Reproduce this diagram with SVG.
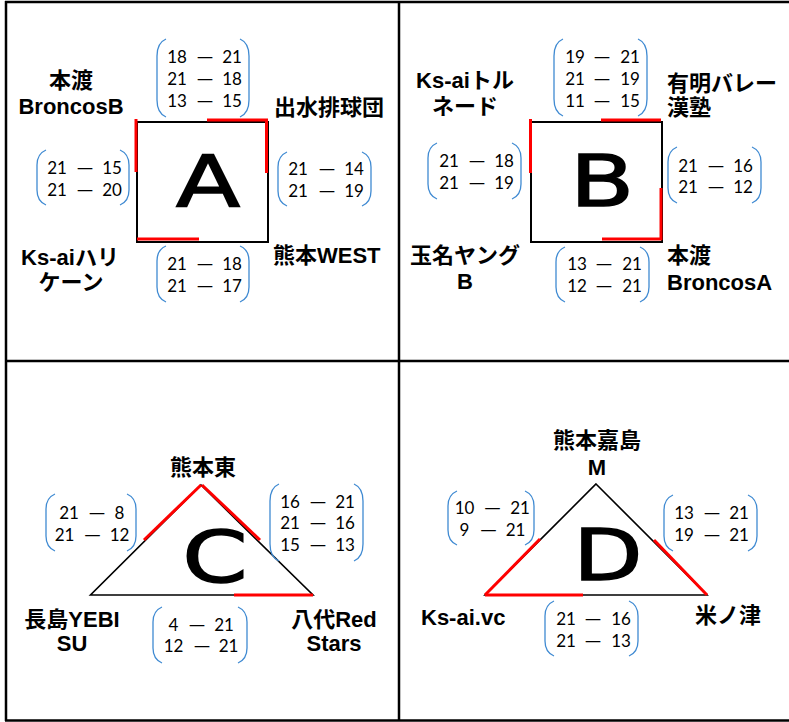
<svg xmlns="http://www.w3.org/2000/svg" width="789" height="722" viewBox="0 0 789 722">
<style>
.grid{stroke:#000;stroke-width:2.5;fill:none}
.shape{stroke:#000;stroke-width:2;fill:none}
.tri{stroke:#000;stroke-width:1.6;fill:none}
.red{stroke:#f00;stroke-width:3;fill:none}
.br{stroke:#3f8ad2;stroke-width:1.3;fill:none}
.lbl{font-family:"Liberation Sans","Noto Sans CJK JP",sans-serif;font-weight:bold;font-size:22px;fill:#000}
.mid{text-anchor:middle}
.sc{font-family:Lato,"Noto Sans",sans-serif;font-size:17px;fill:#000;text-anchor:middle}
.big{font-family:"DejaVu Sans","Liberation Sans",sans-serif;font-size:72px;fill:#000;stroke:#000;stroke-width:1.5;text-anchor:middle}
</style>
<rect width="789" height="722" fill="#fff"/>
<g id="grid">
<line class="grid" x1="5" y1="2" x2="789" y2="2"/>
<line class="grid" x1="6" y1="1" x2="6" y2="721"/>
<line class="grid" x1="399" y1="1" x2="399" y2="721"/>
<line class="grid" x1="5" y1="361" x2="789" y2="361"/>
<line class="grid" x1="5" y1="720.5" x2="789" y2="720.5"/>
</g>

<g id="shape-A">
<rect class="shape" x="137" y="122" width="131" height="120"/>
<line class="red" x1="136" y1="119" x2="136" y2="172"/>
<line class="red" x1="207" y1="120" x2="268" y2="120"/>
<line class="red" x1="266.5" y1="119" x2="266.5" y2="173"/>
<line class="red" x1="137" y1="239" x2="199" y2="239"/>
<text class="big" transform="translate(208,206) scale(1.3,1)">A</text>
</g>
<g id="shape-B">
<rect class="shape" x="531" y="122" width="131" height="120"/>
<line class="red" x1="530.5" y1="119" x2="530.5" y2="173"/>
<line class="red" x1="601" y1="120" x2="661" y2="120"/>
<line class="red" x1="661" y1="188" x2="661" y2="240"/>
<line class="red" x1="602" y1="239" x2="662" y2="239"/>
<text class="big" transform="translate(602,206) scale(1.3,1)">B</text>
</g>
<g id="shape-C">
<path class="tri" d="M201,485 L313,595 L90.5,595 Z"/>
<line class="red" x1="144" y1="540" x2="201" y2="485"/>
<line class="red" x1="202" y1="485" x2="260" y2="540"/>
<line class="red" x1="234" y1="595" x2="313" y2="595"/>
<text class="big" transform="translate(215,582) scale(1.3,1)">C</text>
</g>
<g id="shape-D">
<path class="tri" d="M596,484 L707,595 L485,595 Z"/>
<line class="red" x1="485" y1="595" x2="540" y2="539"/>
<line class="red" x1="654" y1="540" x2="707" y2="595"/>
<line class="red" x1="485" y1="595" x2="583" y2="595"/>
<text class="big" transform="translate(608,580) scale(1.25,1)">D</text>
</g>

<g id="label-A-tl"><text class="lbl mid" x="71" y="88">本渡</text><text class="lbl mid" x="71" y="114">BroncosB</text></g>
<g id="label-A-tr"><text class="lbl" x="274" y="115">出水排球団</text></g>
<g id="label-A-bl"><text class="lbl mid" x="70" y="265">Ks-aiハリ</text><text class="lbl mid" x="71" y="290">ケーン</text></g>
<g id="label-A-br"><text class="lbl" x="273" y="263">熊本WEST</text></g>

<g id="label-B-tl"><text class="lbl mid" x="465" y="88">Ks-aiトル</text><text class="lbl mid" x="465" y="114">ネード</text></g>
<g id="label-B-tr"><text class="lbl" x="667" y="91">有明バレー</text><text class="lbl" x="667" y="115">漢塾</text></g>
<g id="label-B-bl"><text class="lbl mid" x="465" y="263">玉名ヤング</text><text class="lbl mid" x="465" y="289">B</text></g>
<g id="label-B-br"><text class="lbl" x="667" y="263">本渡</text><text class="lbl" x="667" y="290">BroncosA</text></g>

<g id="label-C-top"><text class="lbl mid" x="203" y="475">熊本東</text></g>
<g id="label-C-bl"><text class="lbl mid" x="72" y="627">長島YEBI</text><text class="lbl mid" x="72" y="651">SU</text></g>
<g id="label-C-br"><text class="lbl mid" x="334" y="627">八代Red</text><text class="lbl mid" x="334" y="651">Stars</text></g>

<g id="label-D-top"><text class="lbl mid" x="597" y="448">熊本嘉島</text><text class="lbl mid" x="597" y="475">M</text></g>
<g id="label-D-bl"><text class="lbl" x="421" y="625">Ks-ai.vc</text></g>
<g id="label-D-br"><text class="lbl" x="695" y="623">米ノ津</text></g>

<g id="score-A-top">
<path class="br" d="M166,39 C159,42 157,48 157,56 L157,100 C157,108 159,114 166,117"/>
<path class="br" d="M240,39 C247,42 249,48 249,56 L249,100 C249,108 247,114 240,117"/>
<text class="sc" x="177" y="63">18</text><text class="sc" transform="translate(205,63) scale(1.3,1)">—</text><text class="sc" x="232" y="63">21</text>
<text class="sc" x="177" y="85">21</text><text class="sc" transform="translate(205,85) scale(1.3,1)">—</text><text class="sc" x="232" y="85">18</text>
<text class="sc" x="177" y="107">13</text><text class="sc" transform="translate(205,107) scale(1.3,1)">—</text><text class="sc" x="232" y="107">15</text>
</g>
<g id="score-A-left">
<path class="br" d="M46,150 C39,153 37,158 37,165 L37,190 C37,197 39,202 46,205"/>
<path class="br" d="M120,150 C127,153 129,158 129,165 L129,190 C129,197 127,202 120,205"/>
<text class="sc" x="57" y="174">21</text><text class="sc" transform="translate(85,174) scale(1.3,1)">—</text><text class="sc" x="112" y="174">15</text>
<text class="sc" x="57" y="196">21</text><text class="sc" transform="translate(85,196) scale(1.3,1)">—</text><text class="sc" x="112" y="196">20</text>
</g>
<g id="score-A-right">
<path class="br" d="M287,152 C280,155 278,160 278,167 L278,191 C278,198 280,203 287,206"/>
<path class="br" d="M362,152 C369,155 371,160 371,167 L371,191 C371,198 369,203 362,206"/>
<text class="sc" x="298" y="175">21</text><text class="sc" transform="translate(327,175) scale(1.3,1)">—</text><text class="sc" x="354" y="175">14</text>
<text class="sc" x="298" y="197">21</text><text class="sc" transform="translate(327,197) scale(1.3,1)">—</text><text class="sc" x="354" y="197">19</text>
</g>
<g id="score-A-bottom">
<path class="br" d="M166,246 C159,249 157,254 157,261 L157,287 C157,294 159,299 166,302"/>
<path class="br" d="M240,246 C247,249 249,254 249,261 L249,287 C249,294 247,299 240,302"/>
<text class="sc" x="177" y="270">21</text><text class="sc" transform="translate(205,270) scale(1.3,1)">—</text><text class="sc" x="232" y="270">18</text>
<text class="sc" x="177" y="292">21</text><text class="sc" transform="translate(205,292) scale(1.3,1)">—</text><text class="sc" x="232" y="292">17</text>
</g>

<g id="score-B-top">
<path class="br" d="M563,39 C556,42 554,48 554,56 L554,99 C554,107 556,113 563,116"/>
<path class="br" d="M638,39 C645,42 647,48 647,56 L647,99 C647,107 645,113 638,116"/>
<text class="sc" x="575" y="63">19</text><text class="sc" transform="translate(602,63) scale(1.3,1)">—</text><text class="sc" x="630" y="63">21</text>
<text class="sc" x="575" y="85">21</text><text class="sc" transform="translate(602,85) scale(1.3,1)">—</text><text class="sc" x="630" y="85">19</text>
<text class="sc" x="575" y="107">11</text><text class="sc" transform="translate(602,107) scale(1.3,1)">—</text><text class="sc" x="630" y="107">15</text>
</g>
<g id="score-B-left">
<path class="br" d="M437,143 C430,146 428,151 428,158 L428,184 C428,191 430,196 437,199"/>
<path class="br" d="M512,143 C519,146 521,151 521,158 L521,184 C521,191 519,196 512,199"/>
<text class="sc" x="449" y="167">21</text><text class="sc" transform="translate(477,167) scale(1.3,1)">—</text><text class="sc" x="504" y="167">18</text>
<text class="sc" x="449" y="189">21</text><text class="sc" transform="translate(477,189) scale(1.3,1)">—</text><text class="sc" x="504" y="189">19</text>
</g>
<g id="score-B-right">
<path class="br" d="M677,147 C670,150 668,155 668,162 L668,188 C668,195 670,200 677,203"/>
<path class="br" d="M752,147 C759,150 761,155 761,162 L761,188 C761,195 759,200 752,203"/>
<text class="sc" x="688" y="172">21</text><text class="sc" transform="translate(716,172) scale(1.3,1)">—</text><text class="sc" x="743" y="172">16</text>
<text class="sc" x="688" y="193">21</text><text class="sc" transform="translate(716,193) scale(1.3,1)">—</text><text class="sc" x="743" y="193">12</text>
</g>
<g id="score-B-bottom">
<path class="br" d="M565,247 C558,250 556,255 556,262 L556,287 C556,294 558,299 565,302"/>
<path class="br" d="M640,247 C647,250 649,255 649,262 L649,287 C649,294 647,299 640,302"/>
<text class="sc" x="577" y="270">13</text><text class="sc" transform="translate(604,270) scale(1.3,1)">—</text><text class="sc" x="632" y="270">21</text>
<text class="sc" x="577" y="292">12</text><text class="sc" transform="translate(604,292) scale(1.3,1)">—</text><text class="sc" x="632" y="292">21</text>
</g>

<g id="score-C-left">
<path class="br" d="M55,494 C48,497 46,502 46,509 L46,536 C46,543 48,548 55,551"/>
<path class="br" d="M127,494 C134,497 136,502 136,509 L136,536 C136,543 134,548 127,551"/>
<text class="sc" x="69" y="519">21</text><text class="sc" transform="translate(97,519) scale(1.3,1)">—</text><text class="sc" x="119.5" y="519">8</text>
<text class="sc" x="64.5" y="541">21</text><text class="sc" transform="translate(92.5,541) scale(1.3,1)">—</text><text class="sc" x="119.5" y="541">12</text>
</g>
<g id="score-C-right">
<path class="br" d="M279,484 C272,487 270,493 270,501 L270,544 C270,552 272,558 279,561"/>
<path class="br" d="M354,484 C361,487 363,493 363,501 L363,544 C363,552 361,558 354,561"/>
<text class="sc" x="290" y="508">16</text><text class="sc" transform="translate(318,508) scale(1.3,1)">—</text><text class="sc" x="345" y="508">21</text>
<text class="sc" x="290" y="529">21</text><text class="sc" transform="translate(318,529) scale(1.3,1)">—</text><text class="sc" x="345" y="529">16</text>
<text class="sc" x="290" y="551">15</text><text class="sc" transform="translate(318,551) scale(1.3,1)">—</text><text class="sc" x="345" y="551">13</text>
</g>
<g id="score-C-bottom">
<path class="br" d="M162,607 C155,610 153,615 153,622 L153,648 C153,655 155,660 162,663"/>
<path class="br" d="M238,607 C245,610 247,615 247,622 L247,648 C247,655 245,660 238,663"/>
<text class="sc" x="173.5" y="631">4</text><text class="sc" transform="translate(197,631) scale(1.3,1)">—</text><text class="sc" x="224" y="631">21</text>
<text class="sc" x="173.5" y="652">12</text><text class="sc" transform="translate(202,652) scale(1.3,1)">—</text><text class="sc" x="228.5" y="652">21</text>
</g>

<g id="score-D-left">
<path class="br" d="M457,491 C450,494 448,499 448,506 L448,530 C448,537 450,542 457,545"/>
<path class="br" d="M525,491 C532,494 534,499 534,506 L534,530 C534,537 532,542 525,545"/>
<text class="sc" x="464.5" y="514">10</text><text class="sc" transform="translate(492.5,514) scale(1.3,1)">—</text><text class="sc" x="520" y="514">21</text>
<text class="sc" x="464.5" y="536">9</text><text class="sc" transform="translate(488.5,536) scale(1.3,1)">—</text><text class="sc" x="515.5" y="536">21</text>
</g>
<g id="score-D-right">
<path class="br" d="M673,495 C666,498 664,503 664,510 L664,536 C664,543 666,548 673,551"/>
<path class="br" d="M748,495 C755,498 757,503 757,510 L757,536 C757,543 755,548 748,551"/>
<text class="sc" x="684" y="519">13</text><text class="sc" transform="translate(712,519) scale(1.3,1)">—</text><text class="sc" x="739" y="519">21</text>
<text class="sc" x="684" y="541">19</text><text class="sc" transform="translate(712,541) scale(1.3,1)">—</text><text class="sc" x="739" y="541">21</text>
</g>
<g id="score-D-bottom">
<path class="br" d="M554,601 C547,604 545,609 545,616 L545,641 C545,648 547,653 554,656"/>
<path class="br" d="M629,601 C636,604 638,609 638,616 L638,641 C638,648 636,653 629,656"/>
<text class="sc" x="566" y="625">21</text><text class="sc" transform="translate(593,625) scale(1.3,1)">—</text><text class="sc" x="621" y="625">16</text>
<text class="sc" x="566" y="647">21</text><text class="sc" transform="translate(593,647) scale(1.3,1)">—</text><text class="sc" x="621" y="647">13</text>
</g>
</svg>
